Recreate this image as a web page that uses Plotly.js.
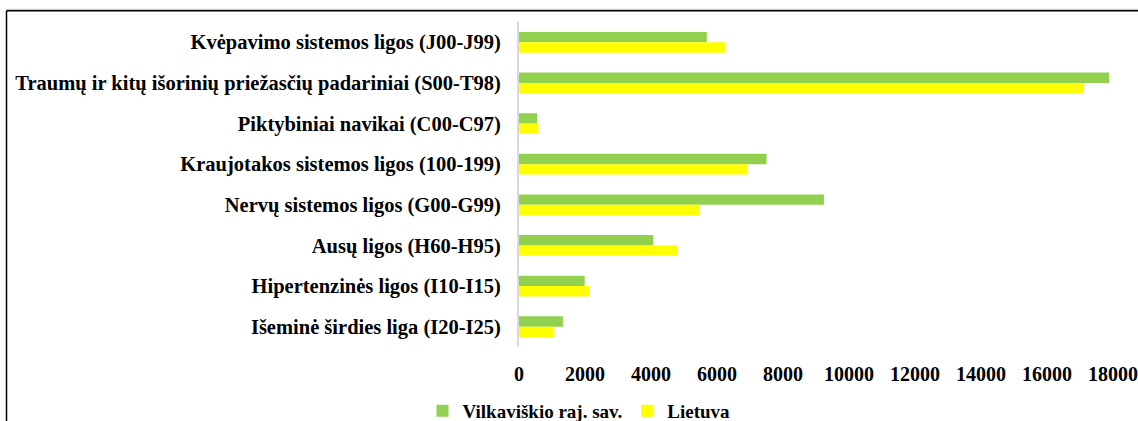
<!DOCTYPE html>
<html>
<head>
<meta charset="utf-8">
<script src="https://cdn.plot.ly/plotly-3.0.1.min.js"></script>
<style>html,body{margin:0;padding:0;background:#fff;}#chart{width:1138px;height:421px;}</style>
</head>
<body>
<div id="chart"></div>
<script>
const categories = [
  "Kvėpavimo sistemos ligos (J00-J99)",
  "Traumų ir kitų išorinių priežasčių padariniai (S00-T98)",
  "Piktybiniai navikai (C00-C97)",
  "Kraujotakos sistemos ligos (100-199)",
  "Nervų sistemos ligos (G00-G99)",
  "Ausų ligos (H60-H95)",
  "Hipertenzinės ligos (I10-I15)",
  "Išeminė širdies liga (I20-I25)"
];
const vilkaviskis = [5690, 17880, 550, 7500, 9240, 4070, 1990, 1330];
const lietuva = [6250, 17120, 590, 6920, 5480, 4790, 2140, 1070];
const seriesNames = ["Vilkaviškio raj. sav.", "Lietuva"];
const xTicks = [0, 2000, 4000, 6000, 8000, 10000, 12000, 14000, 16000, 18000];

const W = 1138, H = 421;
const L = 519, R = 1113, T = 21.7, B = 346.7;
const pw = R - L, ph = B - T;
const px = v => (v - L) / pw;
const py = v => (B - v) / ph;

const fam = "Liberation Serif, Times New Roman, serif";

const data = [
  {type: "bar", orientation: "h", name: seriesNames[0], y: categories, x: vilkaviskis,
   marker: {color: "#92D050"}},
  {type: "bar", orientation: "h", name: seriesNames[1], y: categories, x: lietuva,
   marker: {color: "#FFFF00"}}
];

const layout = {
  width: W, height: H,
  margin: {l: L, r: W - R, t: T, b: H - B, pad: 0, autoexpand: false},
  paper_bgcolor: "#fff", plot_bgcolor: "#fff",
  barmode: "group", bargap: 0.49, bargroupgap: 0,
  font: {family: fam, size: 20, color: "#000", weight: 700},
  showlegend: true,
  legend: {orientation: "h", xref: "container", yref: "container",
           x: 579 / W, xanchor: "center", y: 1 - 411 / H, yanchor: "middle",
           itemwidth: 30, tracegroupgap: 0,
           font: {family: fam, size: 19, color: "#000", weight: 700}, traceorder: "normal"},
  xaxis: {range: [0, 18000], tickvals: xTicks, ticktext: xTicks.map(String), showgrid: false,
          zeroline: false, showline: false, ticks: "", ticklabelstandoff: 13, automargin: false,
          tickfont: {family: fam, size: 20, color: "#000", weight: 700}, fixedrange: true},
  yaxis: {type: "category", autorange: "reversed", showgrid: false, zeroline: false, automargin: false,
          showline: true, linecolor: "#d9d9d9", linewidth: 2, ticks: "", ticklabelstandoff: 12,
          tickfont: {family: fam, size: 20.5, color: "#000", weight: 700}, fixedrange: true},
  shapes: [
    {type: "line", xref: "paper", yref: "paper", x0: px(6), x1: px(1150), y0: py(9), y1: py(9),
     line: {color: "#bfbfbf", width: 1}},
    {type: "line", xref: "paper", yref: "paper", x0: px(6.5), x1: px(1150), y0: py(10.5), y1: py(10.5),
     line: {color: "#000", width: 1.5}},
    {type: "line", xref: "paper", yref: "paper", x0: px(6.5), x1: px(6.5), y0: py(10.5), y1: py(430),
     line: {color: "#000", width: 1.5}}
  ]
};

Plotly.newPlot("chart", data, layout, {displayModeBar: false, staticPlot: true});
</script>
</body>
</html>
